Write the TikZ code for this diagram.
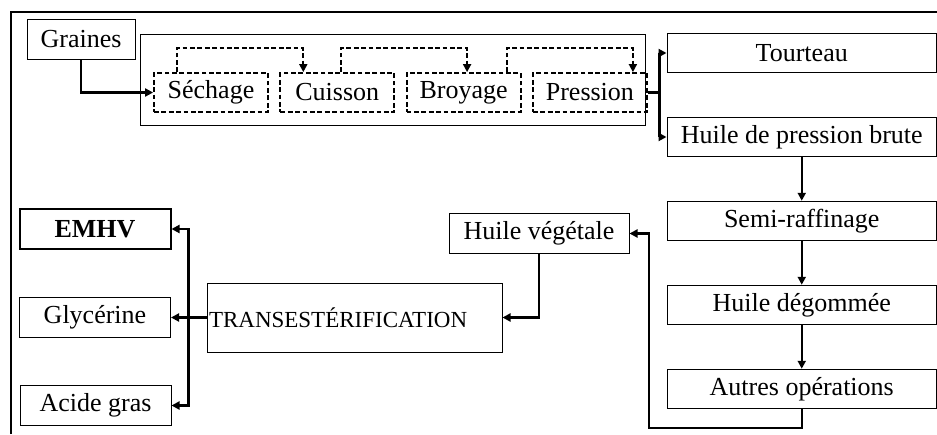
\documentclass[tikz,border=0pt]{standalone}
\usepackage{fontspec}
\setmainfont{Liberation Serif}
\usepackage{tikz}
\usetikzlibrary{arrows.meta,positioning}

\begin{document}
\begin{tikzpicture}
[x=0.5pt, y=-0.5pt, font=\fontsize{13}{15}\selectfont,
% STYLES
% The box style is used for the products and the operations
box/.style={rectangle, draw, line width=0.5pt, inner sep=0pt, minimum height=19.75pt},
% The col style is used for the right column of the oil
col/.style={box, minimum width=134.75pt, node distance=21.75pt},
% The stepbox style is used for the steps of the trituration
stepbox/.style={rectangle, draw, dash pattern=on 2.4pt off 1.3pt, line width=0.9pt, inner sep=0pt, minimum width=57pt, minimum height=19.5pt, node distance=5.25pt},
% The product style is used for the products of the transesterification
product/.style={box, minimum width=75.5pt, minimum height=19.75pt},
flow/.style={-{Triangle[length=4pt,width=4pt]}, line width=1.2pt},
dashflow/.style={-{Triangle[length=4pt,width=4pt]}, line width=0.9pt, dash pattern=on 2.4pt off 1.3pt}]

\useasboundingbox (0,0) rectangle (937,434);
\draw[line width=1pt] (10.5,434) -- (10.5,11.5) -- (937,11.5);

% Draw trituration
\node [box, minimum width=54pt] (graines) at (81,39.5) {Graines};
\node [box, minimum width=252.5pt, minimum height=45.5pt] (trituration) at (392.5,79.5) {};
\node [stepbox] (sechage) at (211,92.5) {Séchage};
\node [stepbox, right=of sechage] (cuisson) {Cuisson};
\node [stepbox, right=of cuisson] (broyage) {Broyage};
\node [stepbox, right=of broyage] (pression) {Pression};

% Draw the oil
\node [col] (tourteau) at (801.75,53) {Tourteau};
\node [col, below=of tourteau] (huile_brute) {Huile de pression brute};
\node [col, below=of huile_brute] (semi_raffinage) {Semi-raffinage};
\node [col, below=of semi_raffinage] (huile_degommee) {Huile dégommée};
\node [col, below=of huile_degommee] (autres) {Autres opérations};
\node [box, minimum width=90pt] (huile_vegetale) at (539,233.5) {Huile végétale};
\node [box, text width=145.5pt, inner xsep=1pt, align=left, minimum height=34.5pt, font=\fontsize{11.5}{14}\selectfont] (transest) at (354.5,317.5) {TRANSESTÉRIFICATION};

% Draw products
\node [product, line width=1pt, font=\fontsize{13}{15}\selectfont\bfseries] (emhv) at (95,229) {EMHV};
\node [product] (glycerine) at (95,317.5) {Glycérine};
\node [product] (acide_gras) at (95.5,405.5) {Acide gras};

% Draw the links
\coordinate (retour) at (649,428);
\draw[flow] (graines.south) |- (sechage.west);
\draw[dashflow] ([xshift=-17pt]sechage.north) -- ++(0,12pt) -| ([xshift=-17pt]cuisson.north);
\draw[dashflow] ([xshift=1.75pt]cuisson.north) -- ++(0,12pt) -| ([xshift=1.75pt]broyage.north);
\draw[dashflow] ([xshift=21.5pt]broyage.north) -- ++(0,12pt) -| ([xshift=21.5pt]pression.north);
\draw[flow] (pression.east) -- ++(5.75pt,0) |- (tourteau.west);
\draw[flow] (pression.east) -- ++(5.75pt,0) |- (huile_brute.west);
\draw[flow] (huile_brute) -- (semi_raffinage);
\draw[flow] (semi_raffinage) -- (huile_degommee);
\draw[flow] (huile_degommee) -- (autres);
\draw[flow] (autres.south) |- (retour) |- (huile_vegetale.east);
\draw[flow] (huile_vegetale.south) |- (transest.east);
\draw[flow] (transest.west) -- ++(-9pt,0) |- (emhv.east);
\draw[flow] (transest.west) -- ++(-9pt,0) |- (glycerine.east);
\draw[flow] (transest.west) -- ++(-9pt,0) |- (acide_gras.east);

\end{tikzpicture}
\end{document}
